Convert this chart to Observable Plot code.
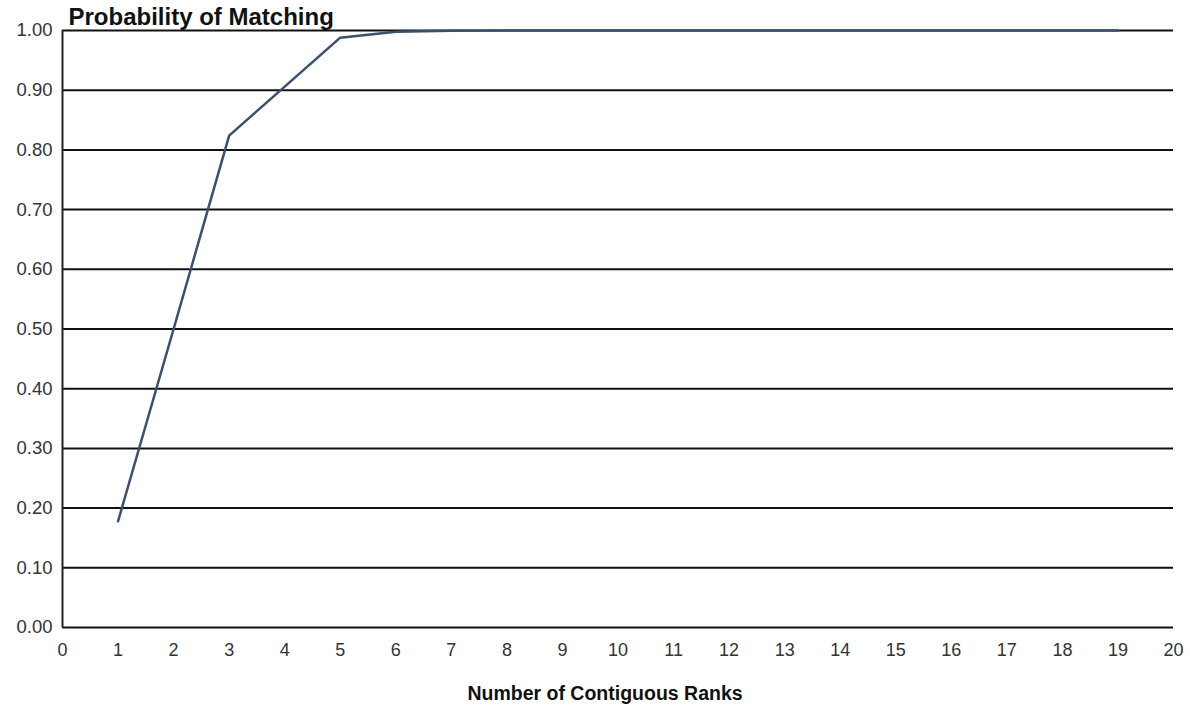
<!DOCTYPE html>
<html>
<head>
<meta charset="utf-8">
<script src="https://cdn.jsdelivr.net/npm/d3@7"></script>
<script src="https://cdn.jsdelivr.net/npm/@observablehq/plot@0.6"></script>
<style>
  html, body { margin: 0; padding: 0; background: #fff; }
  #chart { width: 1190px; height: 705px; }
</style>
</head>
<body>
<div id="chart"></div>
<script>
const ranks = [1, 2, 3, 4, 5, 6, 7, 8, 9, 10, 11, 12, 13, 14, 15, 16, 17, 18, 19];
const probability = [0.178, 0.50, 0.824, 0.906, 0.988, 0.998, 0.9995, 1, 1, 1, 1, 1, 1, 1, 1, 1, 1, 1, 1];
const yTicks = [0, 0.1, 0.2, 0.3, 0.4, 0.5, 0.6, 0.7, 0.8, 0.9, 1.0];
const xTicks = d3.range(0, 21);
const title = "Probability of Matching";
const xTitle = "Number of Contiguous Ranks";

const data = ranks.map((r, i) => ({rank: r, p: probability[i]}));
const font = "'Liberation Sans', Arial, sans-serif";

const chart = Plot.plot({
  width: 1190,
  height: 705,
  marginLeft: 62,
  marginRight: 17,
  marginTop: 30,
  marginBottom: 78,
  style: {fontFamily: font, background: "#fff", color: "#222"},
  x: {domain: [0, 20], ticks: xTicks},
  y: {domain: [0, 1], ticks: yTicks},
  marks: [
    Plot.ruleY(yTicks, {stroke: "#111", strokeWidth: 2}),
    Plot.ruleX([0], {stroke: "#222", strokeWidth: 2}),
    Plot.axisY(yTicks, {tickSize: 0, tickPadding: 10, tickFormat: d3.format(".2f"), fontSize: 18.5, label: null, fill: "#333"}),
    Plot.axisX(xTicks, {tickSize: 0, tickPadding: 16, tickFormat: d => d, fontSize: 18, label: null, fill: "#333"}),
    Plot.line(data, {x: "rank", y: "p", stroke: "#3b4f6e", strokeWidth: 2.5}),
    Plot.text([title], {frameAnchor: "top-left", dx: 6, dy: -6, lineAnchor: "bottom", textAnchor: "start", fontSize: 24, fontWeight: "bold", fill: "#111"}),
    Plot.text([xTitle], {frameAnchor: "bottom", dx: -13, dy: 66, lineAnchor: "middle", fontSize: 19.5, fontWeight: "bold", fill: "#111"})
  ]
});
document.getElementById("chart").appendChild(chart);
</script>
</body>
</html>
